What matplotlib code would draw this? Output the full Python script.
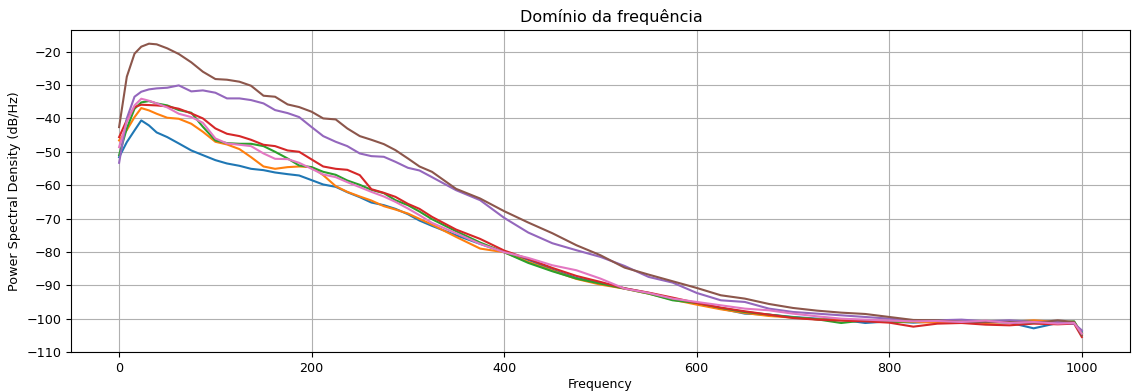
import numpy as np
import matplotlib
matplotlib.use('Agg')
import matplotlib.pyplot as plt

# frequencies (Hz) at which the PSD curves were read
freq = [0, 8, 16, 23, 31, 39, 50, 62, 75, 87, 100, 112, 125, 137, 150, 162, 175, 187,
        200, 212, 225, 237, 250, 262, 275, 287, 300, 312, 325, 350, 375, 400, 425, 450,
        475, 500, 525, 550, 575, 600, 625, 650, 675, 700, 725, 750, 775, 800, 825, 850,
        875, 900, 925, 950, 975, 992, 1000]

psd_blue = [-51.6, -47.1, -43.6, -40.6, -42.1, -44.2, -45.6, -47.5, -49.6, -51.0, -52.5, -53.5,
            -54.2, -55.1, -55.5, -56.2, -56.7, -57.1, -58.5, -59.8, -60.5, -62.1, -63.6, -65.2,
            -66.0, -67.1, -68.7, -70.6, -72.2, -75.0, -77.6, -80.1, -82.4, -85.3, -87.8, -89.3,
            -90.9, -92.3, -94.0, -95.5, -97.0, -98.5, -98.8, -99.5, -100.0, -100.3, -101.3,
            -100.8, -101.2, -100.8, -101.3, -101.0, -101.2, -102.9, -101.3, -101.5, -104.0]
psd_orange = [-46.6, -43.5, -39.6, -36.9, -37.6, -38.6, -39.8, -40.1, -41.6, -44.0, -47.0, -47.8,
              -49.2, -51.6, -54.4, -55.1, -54.6, -54.4, -54.6, -57.0, -60.3, -62.0, -63.4, -64.6,
              -66.3, -67.3, -68.5, -70.1, -71.8, -75.5, -79.0, -80.1, -83.0, -85.6, -88.1, -89.8,
              -91.0, -92.5, -94.3, -95.8, -97.2, -98.3, -99.2, -99.7, -100.2, -100.4, -100.5,
              -101.0, -101.0, -101.2, -100.8, -101.3, -101.0, -100.5, -101.0, -101.0, -104.5]
psd_green = [-51.0, -43.0, -37.1, -35.2, -34.8, -35.5, -36.1, -37.5, -38.3, -42.5, -46.6, -47.4,
             -47.6, -47.6, -48.3, -50.0, -52.0, -54.1, -54.6, -56.0, -56.9, -58.6, -59.9, -61.4,
             -62.4, -64.5, -66.0, -67.9, -70.2, -73.8, -77.2, -80.1, -83.3, -85.8, -88.0, -89.5,
             -91.0, -92.5, -94.5, -95.3, -96.8, -98.0, -98.8, -99.6, -100.2, -101.3, -100.5,
             -101.0, -100.8, -100.5, -101.0, -100.8, -100.7, -101.0, -101.2, -100.8, -104.5]
psd_red = [-45.6, -40.5, -36.6, -35.9, -36.0, -36.1, -36.4, -37.1, -38.5, -40.0, -43.0, -44.6,
           -45.3, -46.4, -47.9, -48.3, -49.6, -50.0, -52.3, -54.4, -55.1, -55.4, -57.0, -61.2,
           -62.3, -63.5, -65.6, -67.1, -69.5, -73.3, -76.1, -79.6, -82.1, -84.8, -87.2, -89.0,
           -90.9, -92.2, -93.7, -95.3, -96.7, -97.8, -98.8, -99.8, -100.3, -100.6, -100.8,
           -101.2, -102.4, -101.5, -101.3, -101.8, -102.0, -101.5, -101.7, -101.5, -105.5]
psd_purple = [-53.3, -40.0, -33.5, -32.0, -31.3, -31.0, -30.8, -30.1, -31.9, -31.6, -32.3, -34.0,
              -34.0, -34.5, -35.5, -37.5, -38.4, -39.6, -42.6, -45.3, -47.0, -48.3, -50.5, -51.3,
              -51.5, -53.0, -54.8, -55.6, -57.6, -61.5, -64.5, -69.8, -74.2, -77.4, -79.5, -81.5,
              -84.2, -87.5, -89.2, -92.3, -94.5, -95.0, -97.0, -98.0, -98.5, -99.0, -99.5,
              -100.0, -100.6, -100.5, -100.3, -100.8, -100.5, -101.0, -101.0, -101.5, -103.5]
psd_brown = [-42.6, -27.5, -20.6, -18.5, -17.6, -17.8, -19.0, -20.7, -23.2, -26.0, -28.2, -28.4,
             -29.0, -30.2, -33.2, -33.5, -35.8, -36.6, -38.0, -40.0, -40.3, -43.0, -45.3, -46.4,
             -47.7, -49.5, -52.0, -54.4, -56.0, -61.1, -64.0, -67.8, -71.2, -74.4, -78.0, -81.0,
             -84.7, -86.8, -88.8, -90.8, -93.0, -94.0, -95.6, -96.8, -97.6, -98.2, -98.6,
             -99.5, -100.4, -100.5, -101.0, -101.0, -101.0, -101.3, -100.5, -101.0, -105.0]
psd_pink = [-48.6, -41.1, -36.1, -34.1, -34.7, -35.5, -36.7, -38.6, -39.6, -41.3, -46.0, -47.5,
            -47.9, -48.3, -50.5, -52.1, -52.2, -53.3, -55.1, -56.8, -57.6, -59.1, -60.6, -62.0,
            -63.4, -65.0, -67.0, -69.0, -71.3, -74.4, -77.6, -80.1, -81.8, -84.0, -85.5, -88.0,
            -91.0, -92.3, -94.0, -95.0, -96.0, -97.0, -97.5, -98.5, -99.3, -100.0, -100.3,
            -100.6, -100.8, -100.7, -101.0, -100.6, -101.3, -101.0, -101.5, -101.3, -104.5]

series = [psd_blue, psd_orange, psd_green, psd_red, psd_purple, psd_brown, psd_pink]

fig = plt.figure(figsize=(11.32, 3.91), dpi=100)
ax = fig.add_axes([0.0627, 0.0997, 0.9355, 0.8236])

for s in series:
    ax.plot(freq, s, lw=1.5)

ax.set_xlim(-50, 1050)
ax.set_ylim(-110, -13.5)
ax.set_yticks(np.arange(-110, -19, 10))
ax.tick_params(labelsize=9.2)
ax.grid(True)
ax.set_title('Domínio da frequência', fontsize=11.5, x=0.51)
ax.set_xlabel('Frequency', fontsize=9, labelpad=2)
ax.set_ylabel('Power Spectral Density (dB/Hz)', fontsize=9.2)

fig.savefig('out.png', dpi=100)
